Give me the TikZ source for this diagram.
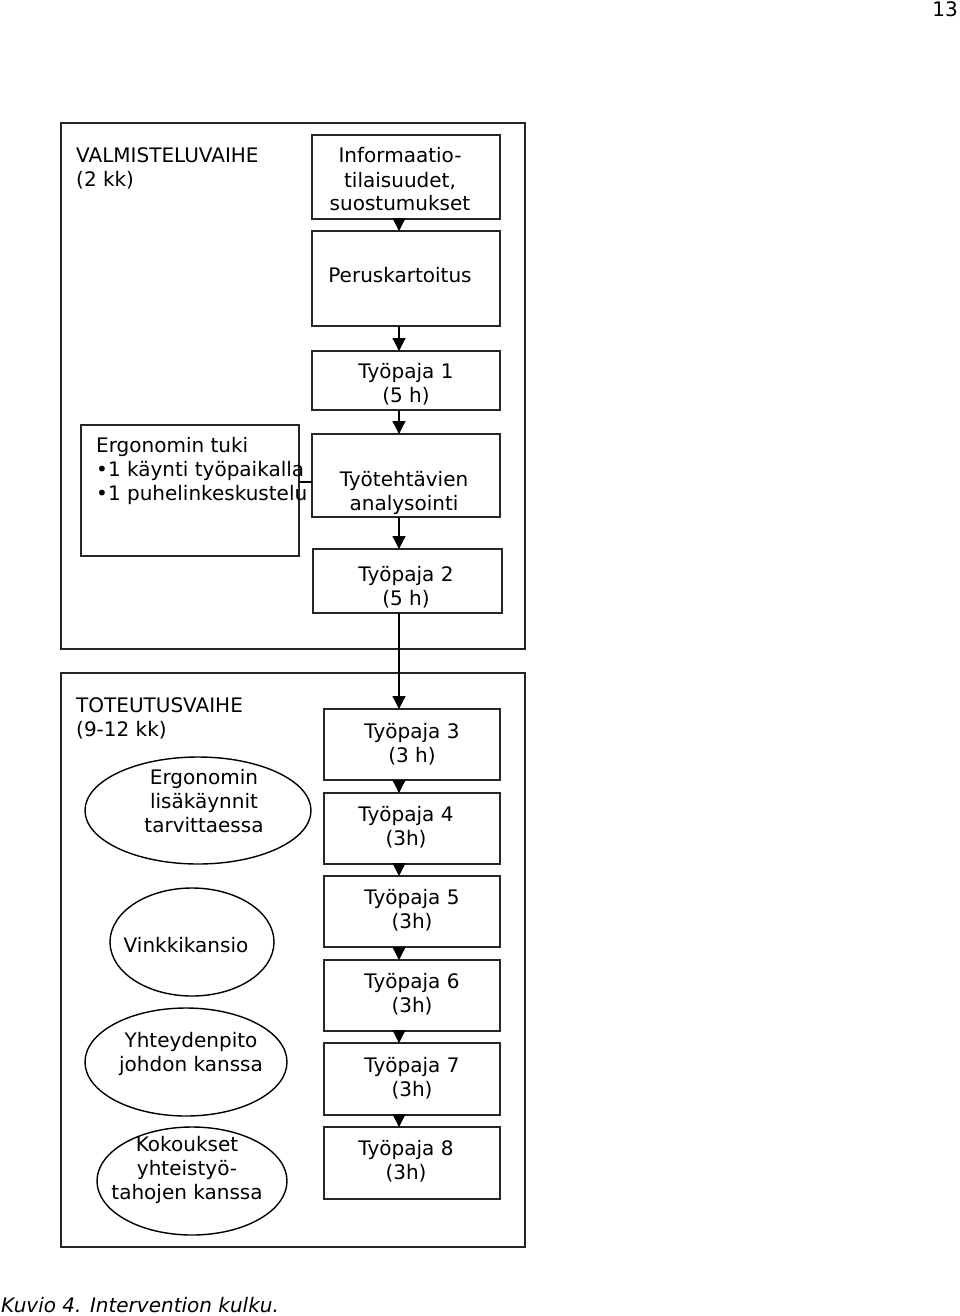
\documentclass[tikz,border=0pt]{standalone}
\usepackage{fontspec}
\setmainfont{DejaVu Sans}
\usetikzlibrary{arrows.meta,shapes.geometric}
\begin{document}
\begin{tikzpicture}[x=1pt,y=-1pt,
  font=\fontsize{20}{24}\selectfont,
  frame/.style={draw=black!85,line width=1.6pt,inner sep=0,outer sep=0},
  boxx/.style={draw=black!85,line width=1.6pt,inner sep=0,outer sep=0},
  oval/.style={draw=black,line width=1.4pt,ellipse,inner sep=0,outer sep=0},
  txt/.style={anchor=base,inner sep=0,align=center},
  ltxt/.style={anchor=base west,inner sep=0,align=left},
  arr/.style={line width=1.3pt,-{Triangle[width=13pt,length=13pt]}},
  conn/.style={line width=1.3pt}]
\useasboundingbox (0,0) rectangle (960,1316);
% page number
\node[anchor=base east,inner sep=0] (pnum) at (958,17) {13};
% outer frames
\node[frame,minimum width=464pt,minimum height=526pt] (valm) at (293,386) {};
\node[frame,minimum width=464pt,minimum height=574pt] (tot) at (293,960) {};
\node[ltxt] (valmt) at (76,186) {VALMISTELUVAIHE\\(2 kk)};
\node[ltxt] (tott) at (76,736) {TOTEUTUSVAIHE\\(9-12 kk)};
% preparation boxes
\node[boxx,minimum width=188pt,minimum height=84pt] (info) at (406,177) {};
\node[txt] (infot) at (400,211) {Informaatio-\\tilaisuudet,\\suostumukset};
\node[boxx,minimum width=188pt,minimum height=95pt] (perus) at (406,278.5) {};
\node[txt] (perust) at (400,282) {Peruskartoitus};
\node[boxx,minimum width=188pt,minimum height=59pt] (tp1) at (406,380.5) {};
\node[txt] (tp1t) at (406,402) {Työpaja 1\\(5 h)};
\node[boxx,minimum width=188pt,minimum height=83pt] (tyot) at (406,475.5) {};
\node[txt] (tyott) at (404,510) {Työtehtävien\\analysointi};
\node[boxx,minimum width=218pt,minimum height=131pt] (ergo) at (190,490.5) {};
\node[ltxt] (ergot) at (96,500) {Ergonomin tuki\\\textbullet1 käynti työpaikalla\\\textbullet1 puhelinkeskustelu};
\node[boxx,minimum width=189pt,minimum height=64pt] (tp2) at (407.5,581) {};
\node[txt] (tp2t) at (406,605) {Työpaja 2\\(5 h)};
% implementation boxes
\node[boxx,minimum width=176pt,minimum height=71pt] (tp3) at (412,744.5) {};
\node[txt] (tp3t) at (412,762) {Työpaja 3\\(3 h)};
\node[boxx,minimum width=176pt,minimum height=71pt] (tp4) at (412,828.5) {};
\node[txt] (tp4t) at (406,845) {Työpaja 4\\(3h)};
\node[boxx,minimum width=176pt,minimum height=71pt] (tp5) at (412,911.5) {};
\node[txt] (tp5t) at (412,928) {Työpaja 5\\(3h)};
\node[boxx,minimum width=176pt,minimum height=71pt] (tp6) at (412,995.5) {};
\node[txt] (tp6t) at (412,1012) {Työpaja 6\\(3h)};
\node[boxx,minimum width=176pt,minimum height=72pt] (tp7) at (412,1079) {};
\node[txt] (tp7t) at (412,1096) {Työpaja 7\\(3h)};
\node[boxx,minimum width=176pt,minimum height=72pt] (tp8) at (412,1163) {};
\node[txt] (tp8t) at (406,1179) {Työpaja 8\\(3h)};
% ellipses
\node[oval,minimum width=226pt,minimum height=107pt] (lisa) at (198,810.5) {};
\node[txt] (lisat) at (204,832) {Ergonomin\\lisäkäynnit\\tarvittaessa};
\node[oval,minimum width=164pt,minimum height=108pt] (vink) at (192,942) {};
\node[txt] (vinkt) at (186,952) {Vinkkikansio};
\node[oval,minimum width=202pt,minimum height=108pt] (yht) at (186,1062) {};
\node[txt] (yhtt) at (191,1071) {Yhteydenpito\\johdon kanssa};
\node[oval,minimum width=190pt,minimum height=108pt] (kok) at (192,1181) {};
\node[txt] (kokt) at (187,1199) {Kokoukset\\yhteistyö-\\tahojen kanssa};
% caption
\node[anchor=base west,inner sep=0,font=\fontsize{20}{24}\selectfont\itshape] (capt) at (1,1312) {Kuvio 4. Intervention kulku.};
% connectors
\draw[arr] (399,0 |- info.south) -- (399,0 |- perus.north);
\draw[arr] (399,0 |- perus.south) -- (399,0 |- tp1.north);
\draw[arr] (399,0 |- tp1.south) -- (399,0 |- tyot.north);
\draw[arr] (399,0 |- tyot.south) -- (399,0 |- tp2.north);
\draw[arr] (399,0 |- tp2.south) -- (399,0 |- tp3.north);
\draw[arr] (399,0 |- tp3.south) -- (399,0 |- tp4.north);
\draw[arr] (399,0 |- tp4.south) -- (399,0 |- tp5.north);
\draw[arr] (399,0 |- tp5.south) -- (399,0 |- tp6.north);
\draw[arr] (399,0 |- tp6.south) -- (399,0 |- tp7.north);
\draw[arr] (399,0 |- tp7.south) -- (399,0 |- tp8.north);
\draw[conn] (ergo.east |- 0,482) -- (tyot.west |- 0,482);
\end{tikzpicture}
\end{document}
